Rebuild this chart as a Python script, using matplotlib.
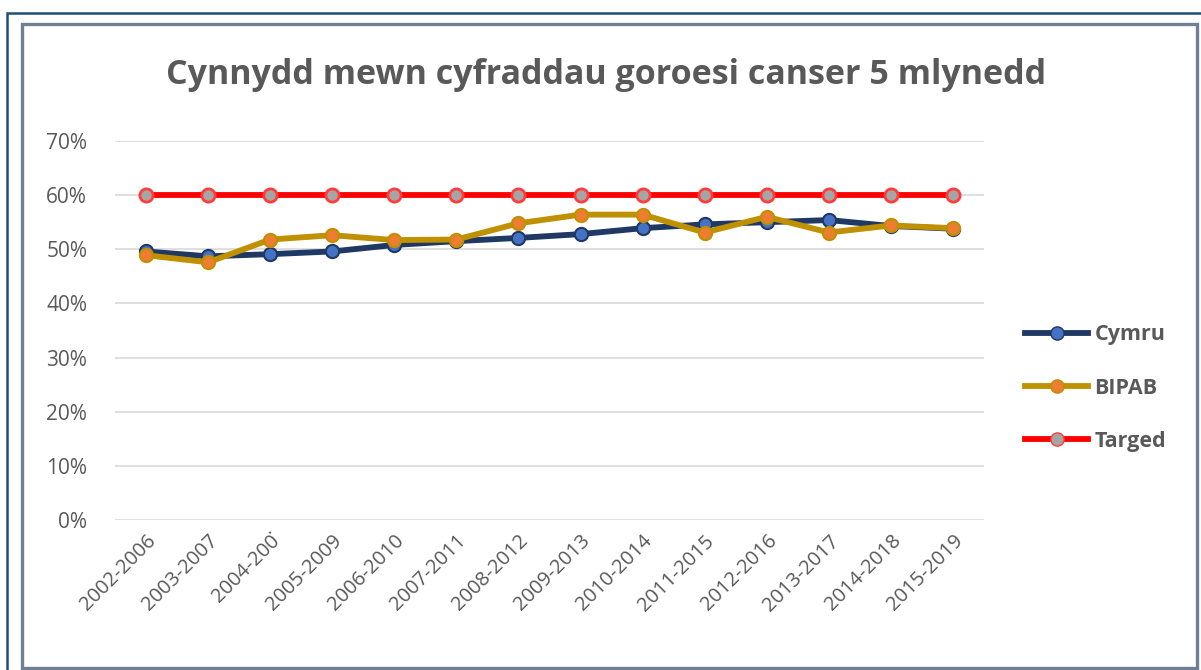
import matplotlib
matplotlib.use("Agg")
import matplotlib.pyplot as plt
from matplotlib.patches import Rectangle
from matplotlib.lines import Line2D
from matplotlib.ticker import PercentFormatter

# data
periods = ["2002-2006", "2003-2007", "2004-2008", "2005-2009", "2006-2010",
           "2007-2011", "2008-2012", "2009-2013", "2010-2014", "2011-2015",
           "2012-2016", "2013-2017", "2014-2018", "2015-2019"]
tick_labels = ["2002-2006", "2003-2007", "2004-200\u0307", "2005-2009", "2006-2010",
               "2007-2011", "2008-2012", "2009-2013", "2010-2014", "2011-2015",
               "2012-2016", "2013-2017", "2014-2018", "2015-2019"]
cymru = [49.6, 48.7, 49.1, 49.6, 50.8, 51.5, 52.1, 52.8, 53.9, 54.6,
         55.0, 55.4, 54.3, 53.8]
bipab = [48.9, 47.6, 51.8, 52.6, 51.7, 51.8, 54.8, 56.4, 56.4, 53.1,
         56.0, 53.1, 54.4, 53.9]
targed = [60] * len(periods)

title = "Cynnydd mewn cyfraddau goroesi canser 5 mlynedd"
grey = "#595959"

plt.rcParams["font.family"] = ["Open Sans", "DejaVu Sans"]

fig = plt.figure(figsize=(12.01, 6.70), dpi=100)
W, H = 1201, 670

# outer frame and chart border
fig.patches.append(Rectangle((7 / W, -0.1), 1.2, 1 - 13 / H + 0.1,
                             transform=fig.transFigure, fill=False,
                             edgecolor="#1F4E79", linewidth=1.8))
fig.patches.append(Rectangle((22 / W, 2 / H), (1197 - 22) / W, (670 - 24 - 2) / H,
                             transform=fig.transFigure, fill=False,
                             edgecolor="#6E7F96", linewidth=2.4))

ax = fig.add_axes([115 / W, 1 - 520 / H, (984 - 115) / W, (520 - 141) / H])

x = range(len(periods))
ax.plot(x, targed, color="#FF0000", linewidth=4.2, marker="o", markersize=9.5,
        markerfacecolor="#A5A5A5", markeredgecolor="#FF3B3B",
        markeredgewidth=2, label="Targed", zorder=3)
ax.plot(x, cymru, color="#1F3864", linewidth=4.2, marker="o", markersize=9.5,
        markerfacecolor="#4472C4", markeredgecolor="#1F3864",
        markeredgewidth=1.5, label="Cymru", zorder=4)
ax.plot(x, bipab, color="#BF9000", linewidth=4.2, marker="o", markersize=9.5,
        markerfacecolor="#ED7D31", markeredgecolor="#BF9000",
        markeredgewidth=1.5, label="BIPAB", zorder=5)

ax.set_xlim(-0.5, len(periods) - 0.5)
ax.set_ylim(0, 70)
ax.set_yticks(range(0, 71, 10))
ax.yaxis.set_major_formatter(PercentFormatter(decimals=0))
ax.set_xticks(list(x))
ax.set_xticklabels(tick_labels, rotation=45, ha="right",
                   rotation_mode="anchor")
ax.tick_params(axis="both", length=0, colors=grey)
ax.tick_params(axis="y", pad=20, labelsize=15)
ax.tick_params(axis="x", pad=8, labelsize=14.5)
ax.grid(axis="y", color="#D9D9D9", linewidth=1.2)
ax.set_axisbelow(True)
for s in ax.spines.values():
    s.set_visible(False)

fig.text(606 / W, 1 - 75 / H, title, ha="center", va="center",
         fontsize=24.5, fontweight="bold", color=grey)

handles = [
    Line2D([], [], color="#1F3864", linewidth=4.2, marker="o", markersize=9.5,
           markerfacecolor="#4472C4", markeredgecolor="#1F3864"),
    Line2D([], [], color="#BF9000", linewidth=4.2, marker="o", markersize=9.5,
           markerfacecolor="#ED7D31", markeredgecolor="#BF9000"),
    Line2D([], [], color="#FF0000", linewidth=4.2, marker="o", markersize=9.5,
           markerfacecolor="#A5A5A5", markeredgecolor="#FF3B3B"),
]
leg = fig.legend(handles, ["Cymru", "BIPAB", "Targed"],
                 loc="center left", bbox_to_anchor=(1006 / W, 1 - 388 / H),
                 frameon=False, handlelength=2.9, handletextpad=0.3,
                 labelspacing=1.5, prop={"size": 15.5, "weight": "bold"})
for t in leg.get_texts():
    t.set_color(grey)

fig.savefig("out.png", dpi=100, facecolor="white")
